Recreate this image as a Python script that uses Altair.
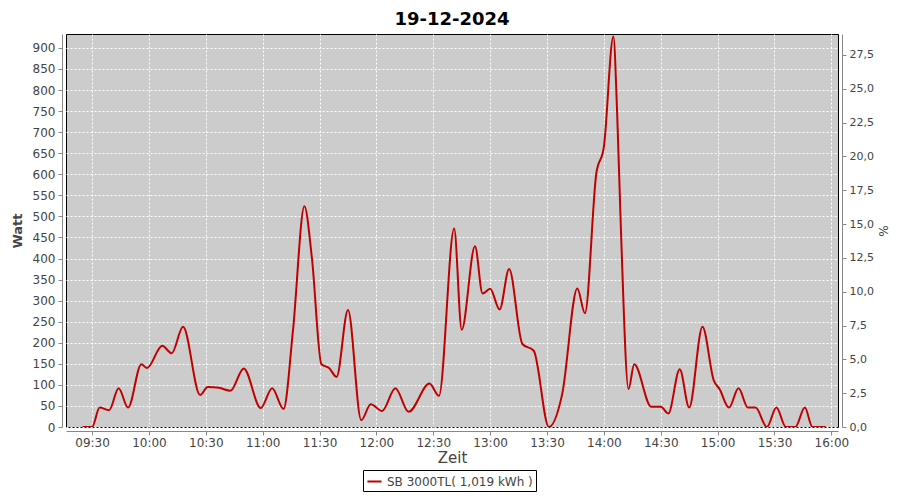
import altair as alt
import pandas as pd

# ---- data ----
times = ["09:25", "09:30", "09:34", "09:39", "09:44", "09:49", "09:56", "09:59",
         "10:07", "10:12", "10:18", "10:27", "10:31", "10:37", "10:43", "10:50",
         "10:59", "11:05", "11:11", "11:16", "11:22", "11:26", "11:31", "11:35",
         "11:39", "11:45", "11:52", "11:57", "12:03", "12:10", "12:17", "12:28",
         "12:33", "12:41", "12:45", "12:52", "12:56", "13:00", "13:05", "13:10",
         "13:17", "13:23", "13:31", "13:38", "13:46", "13:50", "13:56", "14:00",
         "14:05", "14:07", "14:09", "14:13", "14:16", "14:25", "14:30", "14:34",
         "14:40", "14:45", "14:52", "14:58", "15:01", "15:06", "15:11", "15:16",
         "15:20", "15:26", "15:31", "15:36", "15:41", "15:46", "15:50", "15:57"]
watts = [0, 0, 46, 40, 92, 46, 149, 140,
         193, 175, 238, 76, 95, 93, 86, 139,
         45, 92, 43, 230, 524, 400, 149, 140,
         119, 278, 16, 54, 38, 92, 36, 103,
         74, 471, 231, 429, 317, 328, 279, 375,
         197, 181, 0, 78, 329, 270, 602, 665,
         927, 745, 467, 90, 149, 48, 48, 32,
         137, 46, 238, 110, 90, 46, 92, 46,
         46, 0, 46, 0, 0, 46, 0, 0]
series_name = "SB 3000TL( 1,019 kWh )"
watt_ticks = list(range(0, 901, 50))
pct_ticks = [0, 2.5, 5, 7.5, 10, 12.5, 15, 17.5, 20, 22.5, 25, 27.5]
tick_times = [(9, 30), (10, 0), (10, 30), (11, 0), (11, 30), (12, 0), (12, 30),
              (13, 0), (13, 30), (14, 0), (14, 30), (15, 0), (15, 30), (16, 0)]
watt_per_pct = 32.14

df = pd.DataFrame({
    "t": ["2024-12-19T" + t + ":00" for t in times],
    "watt": watts,
    "series": series_name,
})

def dt(h, m, s=0):
    return alt.DateTime(year=2024, month=12, date=19, hours=h, minutes=m, seconds=s)

W, H = 772, 393
label_color = "#444444"
axis_color = "#888888"

x_enc = alt.X(
    "t:T",
    scale=alt.Scale(domain=[dt(9, 16, 15), dt(16, 3, 30)]),
    axis=alt.Axis(
        title="Zeit", format="%H:%M", values=[dt(h, m) for h, m in tick_times],
        grid=True, gridColor="white", gridDash=[2, 2], gridWidth=1, gridOpacity=1,
        offset=4, tickSize=4, titlePadding=2, labelPadding=2,
    ),
)

line = alt.Chart(df).mark_line(interpolate="monotone", strokeWidth=2, clip=True).encode(
    x=x_enc,
    y=alt.Y(
        "watt:Q",
        scale=alt.Scale(domain=[0, 933], nice=False, zero=True),
        axis=alt.Axis(
            title="Watt", values=watt_ticks, grid=True, gridColor="white",
            gridDash=[2, 2], gridWidth=1, gridOpacity=1, offset=4, tickSize=4,
            titlePadding=8, titleFontWeight="bold", titleFontSize=13,
        ),
    ),
    color=alt.Color(
        "series:N",
        scale=alt.Scale(range=["#C00000"]),
        legend=alt.Legend(
            title=None, orient="none", legendX=297, legendY=436,
            symbolType="stroke", symbolStrokeWidth=2, symbolSize=200,
            strokeColor="black", fillColor="white", padding=3,
            labelFontSize=12, labelColor=label_color, labelFont="DejaVu Sans",
        ),
    ),
)

right = alt.Chart(df).transform_calculate(
    pct="datum.watt / " + str(watt_per_pct)
).mark_line(opacity=0).encode(
    x=alt.X("t:T"),
    y=alt.Y(
        "pct:Q",
        scale=alt.Scale(domain=[0, 29.05], nice=False, zero=True),
        axis=alt.Axis(
            title="%", orient="right", values=pct_ticks, grid=False,
            labelExpr="replace(format(datum.value, '.1f'), '.', ',')",
            offset=4, tickSize=4, titlePadding=2, labelFontSize=11,
            titleFontSize=12,
        ),
    ),
)

chart = alt.layer(line, right).resolve_scale(y="independent").properties(
    width=W, height=H,
    title=alt.Title("19-12-2024", fontSize=18, fontWeight="bold", font="DejaVu Sans",
                    color="black", offset=5),
    autosize=alt.AutoSizeParams(type="none"),
    padding={"left": 58, "top": 26, "right": 54, "bottom": 65},
    background="white",
).configure_view(
    fill="#CCCCCC", stroke="black", strokeWidth=1,
).configure_axis(
    labelFont="DejaVu Sans", labelFontSize=12, labelColor=label_color,
    titleFont="DejaVu Sans", titleFontSize=15, titleFontWeight="normal",
    titleColor=label_color, domainColor=axis_color, tickColor=axis_color,
    labelPadding=3,
)

chart.save("out.html", embed_options={"renderer": "svg", "actions": False})
